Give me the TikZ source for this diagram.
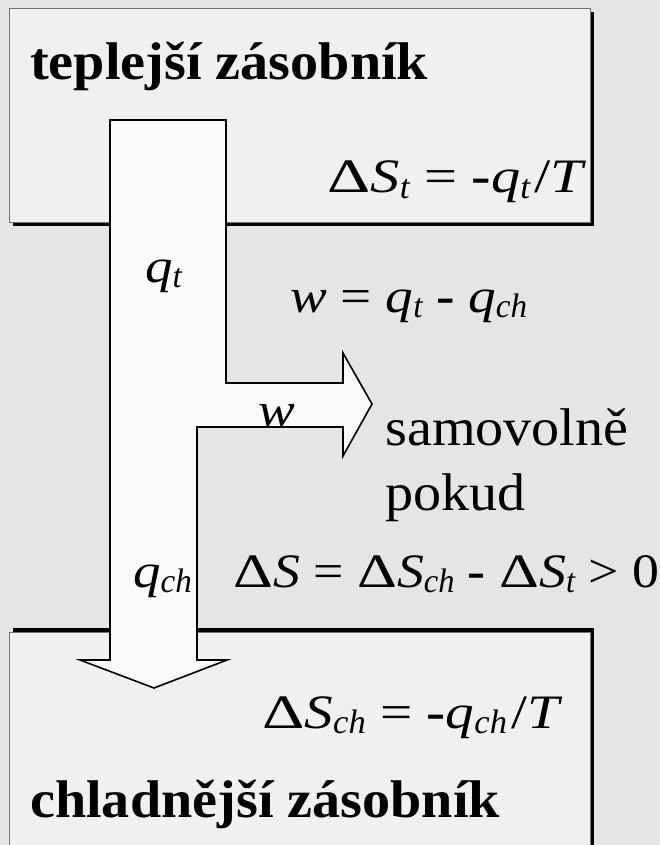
\documentclass[tikz,border=0pt]{standalone}
\usepackage{graphicx}
\usepackage{fontspec}
\setmainfont{Liberation Serif}[FakeStretch=1.06]
\newcommand{\lowix}[1]{\raisebox{-0.12em}{\scalebox{0.85}[1]{\fontsize{34}{34}\selectfont\itshape #1}}}
\newcommand{\dlt}{\scalebox{1.15}[1]{Δ}}
\newcommand{\eqbox}[2]{\scalebox{#1}[1]{#2}}
\newcommand{\bigtxt}{\fontsize{53}{58}\selectfont}
\newcommand{\eqtxt}{\fontsize{48}{54}\selectfont}
\tikzset{
	reservoir/.style={fill=black!6, draw=black!55, line width=0.8pt},
	shadow/.style={fill=black},
	flow/.style={fill=black!2, draw=black, line width=1.6pt, line join=miter},
	lbl/.style={anchor=base west, inner sep=0pt, font=\bigtxt},
	eql/.style={anchor=base west, inner sep=0pt, font=\eqtxt},
	eqr/.style={anchor=base east, inner sep=0pt, font=\eqtxt},
}

\begin{document}
\begin{tikzpicture}[x=1pt, y=-1pt]
	% Background and reservoirs:
	\fill[black!10] (0, 0) rectangle (660, 845);
	\useasboundingbox (0, 0) rectangle (660, 845);
	\fill[shadow] (13, 12) rectangle (594, 226);
	\draw[reservoir] (9, 8) rectangle (590, 222);
	\fill[shadow] (13, 628) rectangle (594, 850);
	\draw[reservoir] (9, 632) rectangle (590, 850);
	% Heat and work flow:
	\draw[flow] (110, 120) -- (226, 120) -- (226, 383) -- (343, 383) -- (343, 353) -- (372, 404) -- (343, 456) -- (343, 427) -- (197, 427) -- (197, 660) -- (227, 660) -- (154, 688) -- (80, 660) -- (110, 660) -- cycle;
	% Labels:
	\node[lbl, font=\bigtxt\bfseries] (hot) at (30, 80){teplejší zásobník};
	\node[eqr] (dSt) at (587, 193){\eqbox{1.148}{\dlt\textit{S}\lowix{t} = {\bfseries -}\textit{q}\lowix{t}\kern0.08em/\textit{T}}};
	\node[eql] (qt) at (145, 282){\eqbox{1.08}{\textit{q}\lowix{t}}};
	\node[eql] (weq) at (290, 312){\eqbox{1.084}{\textit{w} = \textit{q}\lowix{t} {\bfseries -} \textit{q}\lowix{ch}}};
	\node[eql] (w) at (258, 426){\eqbox{1.08}{\textit{w}}};
	\node[lbl] (samo) at (385, 445){samovolně};
	\node[lbl] (pokud) at (385, 510){pokud};
	\node[eql] (qch) at (133, 587){\eqbox{1.08}{\textit{q}\lowix{ch}}};
	\node[eql] (dS) at (233, 587){\eqbox{1.058}{\dlt\textit{S} = \dlt\textit{S}\lowix{ch} {\bfseries -} \dlt\textit{S}\lowix{t} > 0}};
	\node[eql] (dSch) at (262, 728){\eqbox{1.126}{\dlt\textit{S}\lowix{ch} = {\bfseries -}\textit{q}\lowix{ch}\kern0.08em/\textit{T}}};
	\node[lbl, font=\bigtxt\bfseries] (cold) at (30, 817){chladnější zásobník};
\end{tikzpicture}
\end{document}
